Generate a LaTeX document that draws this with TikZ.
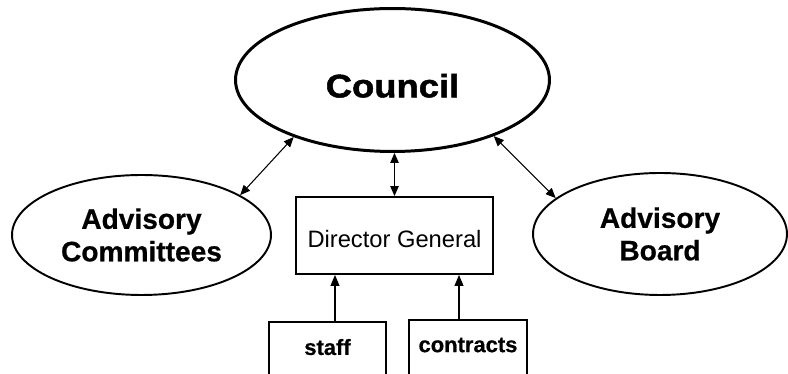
\documentclass[tikz,border=0pt]{standalone}
\usepackage{fontspec}
\setmainfont{Liberation Sans}[BoldFeatures={FakeBold=0.6}]
\newfontfamily\councilfont[FakeStretch=1.12, FakeBold=1.5]{Liberation Sans Bold}
\usepackage{tikz}
\usetikzlibrary{positioning, arrows.meta, shapes.geometric, calc}

\begin{document}
\begin{tikzpicture}[
        x=0.02cm, y=-0.02cm,
        body/.style={ellipse, draw, line width=1.1pt, inner sep=0pt, align=center, font=\fontsize{16}{18.5}\selectfont\bfseries},
        office/.style={rectangle, draw, line width=1.1pt, inner sep=0pt},
        link/.style={line width=0.6pt, {Triangle[length=0.2cm, width=0.17cm]}-{Triangle[length=0.2cm, width=0.17cm]}},
        feed/.style={line width=0.6pt, -{Triangle[length=0.22cm, width=0.18cm]}}
    ]
    \useasboundingbox (0,0) rectangle (788,374);
    \clip (0,0) rectangle (788,374);

    % Governing bodies
    \node[body, line width=1.7pt, minimum width=6.28cm, minimum height=2.86cm, font=\fontsize{18.5}{20}\councilfont, text height=0.7cm] (council) at (392.5,80) {Council};
    \node[body, minimum width=5.18cm, minimum height=2.4cm] (advcom) at (141.5,235) {Advisory\\Committees};
    \node[body, minimum width=5.08cm, minimum height=2.44cm] (advboard) at (660,234) {Advisory\\Board};

    % Director General and what reports to it
    \node[office, minimum width=3.94cm, minimum height=1.54cm, font=\fontsize{13.5}{15}\selectfont, text height=0.5cm, text depth=0cm] (dg) at (394.5,235.5) {Director General};
    \node[office, minimum width=2.34cm, minimum height=1.3cm, anchor=north, font=\fontsize{12.5}{14}\selectfont\bfseries, text depth=0.3cm] (staff) at (327.5,321) {staff};
    \node[office, minimum width=2.36cm, minimum height=1.3cm, anchor=north, font=\fontsize{12.5}{14}\selectfont\bfseries, text depth=0.3cm] (contracts) at (468,319) {contracts};

    % Links to the council
    \draw[link] (council.210) -- (advcom.22);
    \draw[link] (council.331) -- (advboard.161);
    \draw[link] (dg.north |- council.south) -- (dg.north);

    % Support lines
    \draw[feed] ([xshift=0.15cm]staff.north) -- ([xshift=0.15cm]staff.north |- dg.south);
    \draw[feed] ([xshift=-0.18cm]contracts.north) -- ([xshift=-0.18cm]contracts.north |- dg.south);
\end{tikzpicture}
\end{document}
